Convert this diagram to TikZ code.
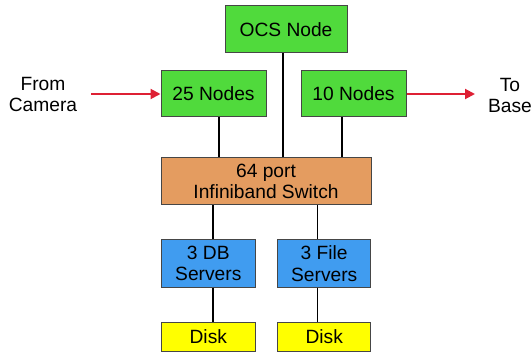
\documentclass[tikz,border=0pt]{standalone}
\usepackage{fontspec}
\setmainfont{Liberation Sans}
\usetikzlibrary{arrows.meta}
\definecolor{boxgreen}{RGB}{80,218,60}
\definecolor{boxorange}{RGB}{228,156,96}
\definecolor{boxblue}{RGB}{64,156,240}
\definecolor{boxyellow}{RGB}{255,255,0}
\definecolor{arrowred}{RGB}{222,32,52}
\definecolor{edgegray}{RGB}{70,70,70}
\begin{document}
\begin{tikzpicture}[x=1pt,y=-1pt,
  box/.style={draw=edgegray,line width=1pt,inner sep=0pt,align=center,
    font=\fontsize{19.2}{21.5}\selectfont},
  lbl/.style={inner sep=0pt,align=center,font=\fontsize{19.2}{21.5}\selectfont},
  link/.style={draw=black,line width=1.5pt},
  flow/.style={draw=arrowred,line width=2pt,-{Triangle[length=10pt,width=10pt]}}]
\useasboundingbox (0,0) rectangle (532,352);
\node[box,fill=boxgreen,minimum width=122pt,minimum height=47pt] (ocs) at (286,29.5) {OCS Node};
\node[box,fill=boxgreen,minimum width=105pt,minimum height=46pt] (n25) at (213.5,94) {25 Nodes};
\node[box,fill=boxgreen,minimum width=105pt,minimum height=46pt] (n10) at (353.5,94) {10 Nodes};
\node[box,fill=boxorange,minimum width=210pt,minimum height=47pt] (sw) at (266,181.5) {64 port\\Infiniband Switch};
\node[box,fill=boxblue,minimum width=93.5pt,minimum height=47pt] (db) at (208.3,263.5) {3 DB\\Servers};
\node[box,fill=boxblue,minimum width=93pt,minimum height=47pt] (fs) at (324.2,263.5) {3 File\\Servers};
\node[box,fill=boxyellow,minimum width=93.5pt,minimum height=29pt] (d1) at (208.3,336.5) {Disk};
\node[box,fill=boxyellow,minimum width=93pt,minimum height=29pt] (d2) at (324.2,336.5) {Disk};
\node[lbl] (cam) at (43,94.5) {From\\Camera};
\node[lbl] (base) at (510,95.5) {To\\Base};
\coordinate (camend) at (91,94);
\coordinate (baseend) at (475,94);
% connectors
\draw[link] ([xshift=-3pt]ocs.south) -- ([xshift=-3pt]ocs.south |- sw.north);
\draw[link] ([xshift=5.5pt]n25.south) -- ([xshift=5.5pt]n25.south |- sw.north);
\draw[link] ([xshift=-11.5pt]n10.south) -- ([xshift=-11.5pt]n10.south |- sw.north);
\draw[link] ([xshift=4.5pt]db.north |- sw.south) -- ([xshift=4.5pt]db.north);
\draw[link] ([xshift=-6.5pt]fs.north |- sw.south) -- ([xshift=-6.5pt]fs.north);
\draw[link] ([xshift=4.5pt]db.south) -- ([xshift=4.5pt]d1.north);
\draw[link] ([xshift=-6.5pt]fs.south) -- ([xshift=-6.5pt]d2.north);
\draw[flow] (camend) -- (n25.west);
\draw[flow] (n10.east) -- (baseend);
\end{tikzpicture}
\end{document}
